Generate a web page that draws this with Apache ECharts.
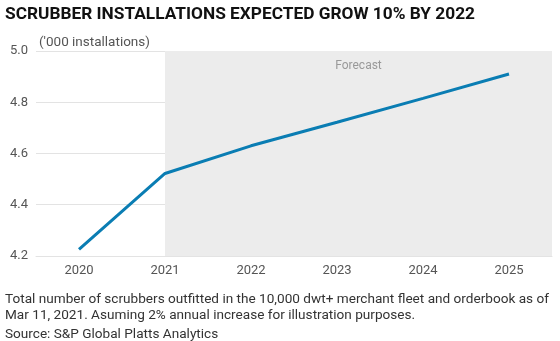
<!DOCTYPE html>
<html><head><meta charset="utf-8">
<script src="https://cdn.jsdelivr.net/npm/echarts@6/dist/echarts.min.js"></script>
<style>html,body{margin:0;padding:0;background:#fff}#c{width:560px;height:341px}</style>
</head><body><div id="c"></div>
<script>
const categories = ['2020','2021','2022','2023','2024','2025'];
const installations = [4.226, 4.522, 4.630, 4.722, 4.815, 4.910];
const forecastStart = 1;      // index of 2021
const forecastEnd = 5.5;      // right edge of category band
const yTicks = {min: 4.2, max: 5.0, interval: 0.2};

const chart = echarts.init(document.getElementById('c'), null, {renderer:'canvas'});
chart.setOption({
  animation: false,
  backgroundColor: '#fff',
  title: [
    {text: 'SCRUBBER INSTALLATIONS EXPECTED GROW 10% BY 2022', left: 0, top: 1,
     textStyle: {fontFamily: 'Roboto', fontWeight: 'bold', fontSize: 17.3, color: '#111'}},
    {text: "('000 installations)", left: 34, top: 31,
     textStyle: {fontFamily: 'Roboto', fontWeight: 'normal', fontSize: 13.5, color: '#555'}},
    {text: 'Total number of scrubbers outfitted in the 10,000 dwt+ merchant fleet and orderbook as of\nMar 11, 2021. Asuming 2% annual increase for illustration purposes.',
     left: 0, top: 287,
     textStyle: {fontFamily: 'Roboto', fontWeight: 'normal', fontSize: 13.6, lineHeight: 16, color: '#333'}},
    {text: 'Source: S&P Global Platts Analytics', left: 0, top: 323,
     textStyle: {fontFamily: 'Roboto', fontWeight: 'normal', fontSize: 13.6, color: '#333'}}
  ],
  grid: {left: 36, right: 8, top: 51, bottom: 85, containLabel: false},
  xAxis: [
    {type: 'category', data: categories, boundaryGap: true,
     axisLine: {show: true, lineStyle: {color: '#e3e3e3'}}, axisTick: {show: false},
     axisLabel: {color: '#555', fontFamily: 'Roboto', fontSize: 13, margin: 8}},
    {type: 'value', min: -0.5, max: 5.5, show: false}
  ],
  yAxis: {type: 'value', min: yTicks.min, max: yTicks.max, interval: yTicks.interval,
    axisLine: {show: false}, axisTick: {show: false},
    splitLine: {lineStyle: {color: '#e3e3e3', width: 1}},
    axisLabel: {color: '#555', fontFamily: 'Roboto', fontSize: 13, margin: 8,
      formatter: v => v.toFixed(1)}},
  series: [
    {type: 'line', xAxisIndex: 1, data: [], silent: true,
     markArea: {silent: true, itemStyle: {color: '#ececec'},
       label: {show: true, position: 'insideTop', distance: 9, color: '#999', fontFamily: 'Roboto', fontSize: 12},
       data: [[{name: 'Forecast', xAxis: forecastStart}, {xAxis: forecastEnd}]]}},
    {type: 'line', data: installations, symbol: 'none', z: 5,
     lineStyle: {color: '#0a7db3', width: 3}}
  ]
});
</script></body></html>
